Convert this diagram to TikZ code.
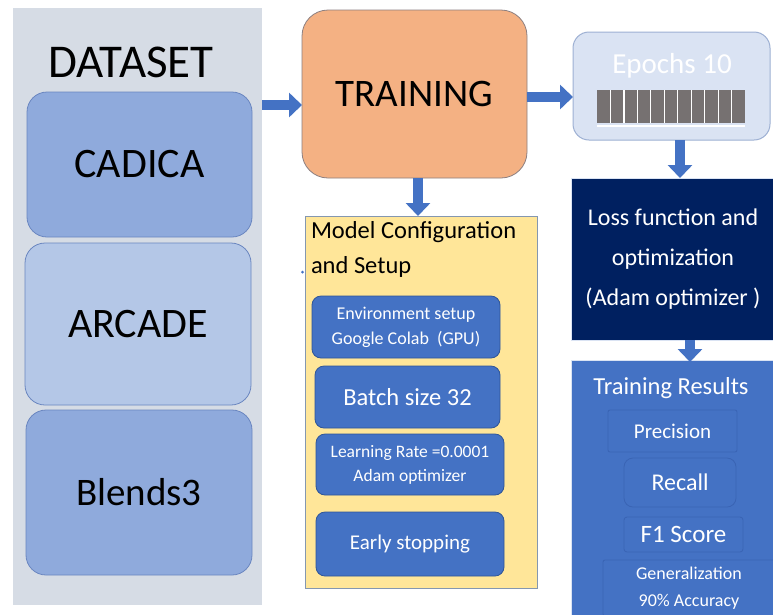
\documentclass[tikz,border=0pt]{standalone}
\usepackage{fontspec}
\setmainfont{Carlito}
\usetikzlibrary{arrows.meta}
\definecolor{dsbgc}{HTML}{D6DCE5}
\definecolor{dsdark}{HTML}{8FAADC}
\definecolor{dslight}{HTML}{B4C7E7}
\definecolor{dsline}{HTML}{6A86C0}
\definecolor{trainc}{HTML}{F4B183}
\definecolor{trainline}{HTML}{8C7F80}
\definecolor{epochc}{HTML}{DAE3F3}
\definecolor{epochline}{HTML}{9DB0D3}
\definecolor{navy}{HTML}{002060}
\definecolor{midblue}{HTML}{4472C4}
\definecolor{darkblue}{HTML}{2F5597}
\definecolor{yellowc}{HTML}{FFE699}
\definecolor{yellowline}{HTML}{8497B0}
\definecolor{barc}{HTML}{767171}
\definecolor{resline}{HTML}{3A64B4}
\tikzset{
  box/.style={inner sep=0pt, outer sep=0pt, align=center},
  dsbox/.style={box, draw=dsline, line width=0.8pt, rounded corners=20pt, font=\fontsize{42}{46}\selectfont},
  subbox/.style={box, fill=midblue, draw=darkblue, line width=0.8pt, rounded corners=9pt, text=white},
  resbox/.style={box, fill=midblue, draw=resline, line width=0.8pt, text=white},
  barrow/.style={draw=midblue, line width=10pt, -{Triangle[length=13pt,width=24pt]}, shorten >=0pt},
}
\begin{document}
\begin{tikzpicture}[x=1pt,y=-1pt]
\useasboundingbox (0,0) rectangle (773,614);
\fill[white] (0,0) rectangle (773,614);
% dataset column
\node[box, fill=dsbgc, minimum width=249pt, minimum height=597pt] (dsbg) at (137.5,306.5) {};
\node[box, font=\fontsize{47}{50}\selectfont] (dstitle) at (131,62) {DATASET};
\node[dsbox, fill=dsdark, minimum width=225pt, minimum height=145pt] (cadica) at (139.5,164.5) {CADICA};
\node[dsbox, fill=dslight, minimum width=226pt, minimum height=162pt] (arcade) at (138,324) {ARCADE};
\node[dsbox, fill=dsdark, minimum width=226pt, minimum height=165pt, font=\fontsize{39}{44}\selectfont] (blends) at (139,492.5) {Blends3};
% training
\node[box, fill=trainc, draw=trainline, line width=0.8pt, rounded corners=26pt, minimum width=225pt, minimum height=168pt, font=\fontsize{39}{43}\selectfont] (train) at (414.5,94) {TRAINING};
% epochs
\node[box, fill=epochc, draw=epochline, line width=1pt, rounded corners=16pt, minimum width=197pt, minimum height=108pt] (epochs) at (671.5,86) {};
\node[box, text=white, font=\fontsize{29}{32}\selectfont] (epochtxt) at (672,66) {Epochs 10};
\fill[barc] (597,90) rectangle (745,123);
\foreach \i in {1,...,10} { \draw[white, line width=1.2pt] ({597+\i*148/11},90) -- ({597+\i*148/11},123); }
\draw[white, line width=2pt] (597,126) -- (745,126);
% loss
\node[box, fill=navy, draw=epochc, line width=0.6pt, minimum width=204pt, minimum height=162pt, text=white, font=\fontsize{24}{40}\selectfont] (loss) at (673,259) {Loss function and\\optimization\\(Adam optimizer )};
% results
\node[box, fill=midblue, draw=epochc, line width=0.6pt, minimum width=204pt, minimum height=258pt] (results) at (673,489) {};
\node[box, text=white, font=\fontsize{24.5}{28}\selectfont] (restitle) at (671,388) {Training Results};
\node[resbox, rounded corners=2pt, minimum width=129pt, minimum height=42pt, font=\fontsize{21}{24}\selectfont] (prec) at (672.5,431) {Precision};
\node[resbox, rounded corners=9pt, minimum width=112pt, minimum height=49pt, font=\fontsize{24}{28}\selectfont] (recall) at (680,482.5) {Recall};
\node[resbox, rounded corners=3pt, minimum width=119pt, minimum height=35pt, font=\fontsize{25}{28}\selectfont] (f1) at (683.5,534.5) {F1 Score};
\node[resbox, rounded corners=2pt, minimum width=172pt, minimum height=56pt, font=\fontsize{18}{27}\selectfont] (gen) at (689,588) {Generalization\\90\% Accuracy};
% model configuration
\node[box, fill=yellowc, draw=yellowline, line width=0.8pt, minimum width=232pt, minimum height=372pt] (model) at (421,402) {};
\node[box, anchor=north west, align=left, font=\fontsize{24.5}{35}\selectfont] (modeltitle) at (311,221) {Model Configuration\\and Setup};
\fill[midblue] (302.5,272) circle (1.5pt);
\node[subbox, minimum width=188pt, minimum height=62pt, font=\fontsize{18}{25}\selectfont] (env) at (406,327) {Environment setup\\Google Colab\ \ (GPU)};
\node[subbox, minimum width=185pt, minimum height=62pt, font=\fontsize{24.5}{28}\selectfont] (batch) at (407.5,397) {Batch size 32};
\node[subbox, minimum width=188pt, minimum height=61pt, font=\fontsize{17.5}{24}\selectfont] (lr) at (410,464.5) {Learning Rate =0.0001\\Adam optimizer};
\node[subbox, minimum width=188pt, minimum height=64pt, font=\fontsize{21}{24}\selectfont] (early) at (410,544) {Early stopping};
% arrows
\draw[barrow] (dsbg.east |- 0,105) -- (train.west |- 0,105);
\draw[barrow] (train.east |- 0,97) -- (epochs.west |- 0,97);
\draw[barrow] (train.south -| 418,0) -- (model.north -| 418,0);
\draw[barrow] (epochs.south -| 680,0) -- (loss.north -| 680,0);
\draw[barrow] (loss.south -| 690,0) -- ++(0,22);
\end{tikzpicture}
\end{document}
